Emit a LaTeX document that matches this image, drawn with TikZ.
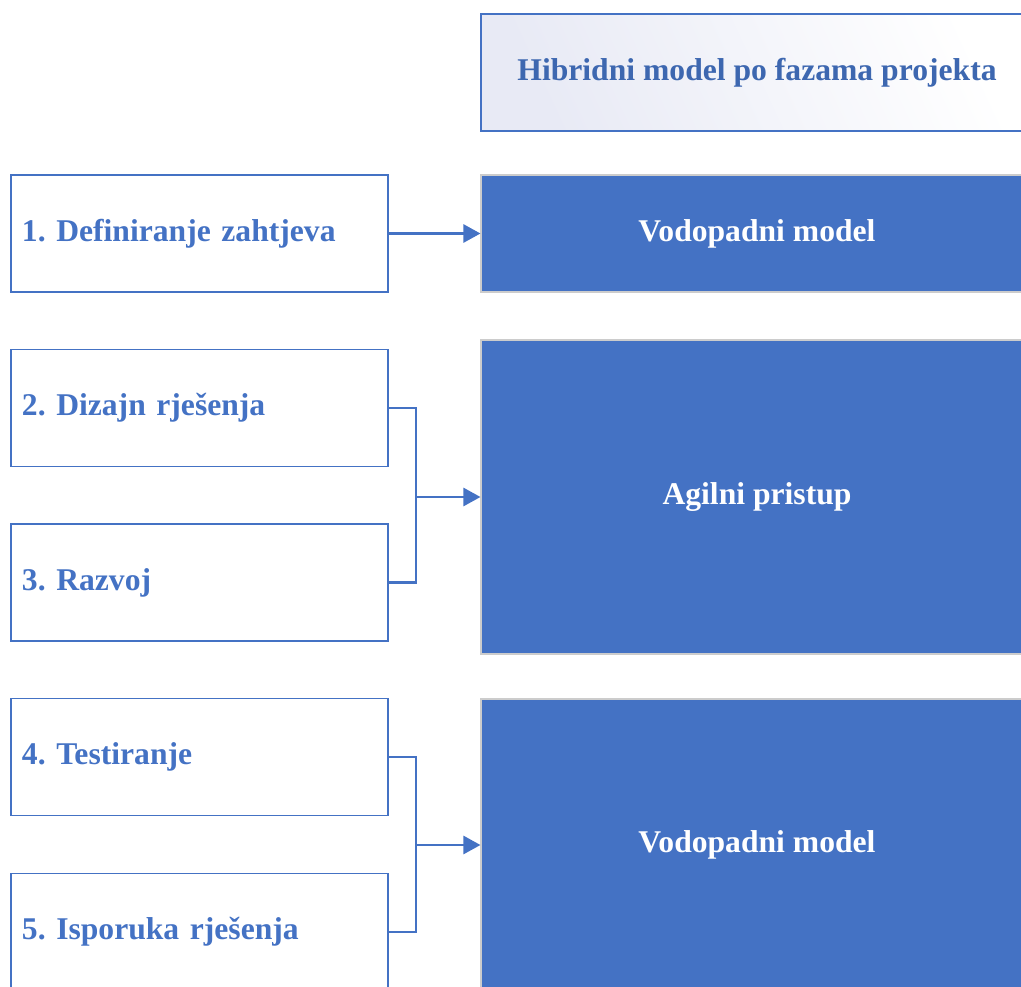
\documentclass[tikz,border=0pt]{standalone}
\usepackage{fontspec}
\setmainfont{Liberation Serif}
\usepackage{xcolor}
\usepackage{tikz}
\usetikzlibrary{arrows.meta}

\definecolor{wordblue}{HTML}{4472C4}
\definecolor{lavender}{HTML}{E8EAF5}
\frenchspacing

\tikzset{
  phase/.style={draw=wordblue, line width=1.1pt, rectangle, text=wordblue,
    text width=71mm, inner xsep=2.2mm, minimum height=23.4mm, align=left,
    font=\fontsize{18}{21}\selectfont\bfseries},
  model/.style={draw=black!20, line width=0.6pt, fill=wordblue, rectangle,
    minimum width=110.4mm, text=white, font=\fontsize{18}{21}\selectfont\bfseries},
  heading/.style={draw=wordblue, line width=1.1pt, rectangle, left color=lavender,
    right color=white, shading angle=115, minimum width=110.4mm, minimum height=23.4mm,
    text=wordblue!90!black, font=\fontsize{18}{21}\selectfont\bfseries},
  link/.style={draw=wordblue, line width=1.5pt},
  tip/.style={-{Triangle[length=3.4mm, width=3.6mm]}},
}

\begin{document}
\begin{tikzpicture}[x=0.2mm, y=-0.2mm]
    \useasboundingbox (0,0) rectangle (1021,987);

    \node[heading] (title) at (757,72.5) {Hibridni model po fazama projekta};

    % phases
    \node[phase] (req) at (199.5,233.5) {1. Definiranje zahtjeva};
    \node[phase] (design) at (199.5,408) {2. Dizajn rješenja};
    \node[phase] (dev) at (199.5,582.5) {3. Razvoj};
    \node[phase] (test) at (199.5,757) {4. Testiranje};
    \node[phase] (deliv) at (199.5,932) {5. Isporuka rješenja};

    % models
    \node[model, minimum height=23.4mm] (waterA) at (757,233.5) {Vodopadni model};
    \node[model, minimum height=62.8mm] (agile) at (757,497) {Agilni pristup};
    \node[model, minimum height=58.4mm] (waterB) at (757,845) {Vodopadni model};

    \coordinate (joinA) at (416,497);
    \coordinate (joinB) at (416,845);

    \draw[link, tip] (req) -- (waterA);
    \draw[link] (design.east) -| (joinA) |- (dev.east);
    \draw[link, tip] (joinA) -- (agile);
    \draw[link] (test.east) -| (joinB) |- (deliv.east);
    \draw[link, tip] (joinB) -- (waterB);
\end{tikzpicture}
\end{document}
